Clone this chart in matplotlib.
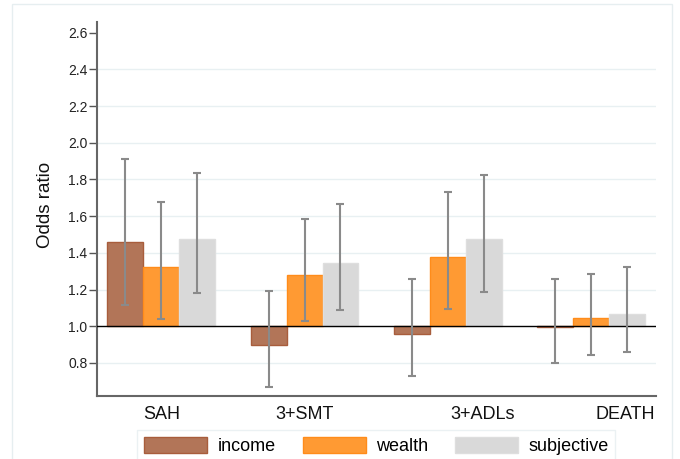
import numpy as np
import matplotlib
matplotlib.use('Agg')
import matplotlib.pyplot as plt
from matplotlib.patches import Rectangle

plt.rcParams['font.family'] = ['Liberation Sans', 'DejaVu Sans']

# data
outcomes = ['SAH', '3+SMT', '3+ADLs', 'DEATH']
series = ['income', 'wealth', 'subjective']

income = [1.461, 0.898, 0.956, 0.996]
income_lo = [1.114, 0.671, 0.729, 0.802]
income_hi = [1.910, 1.192, 1.258, 1.258]

wealth = [1.322, 1.278, 1.378, 1.044]
wealth_lo = [1.040, 1.029, 1.094, 0.844]
wealth_hi = [1.679, 1.586, 1.732, 1.283]

subjective = [1.474, 1.343, 1.474, 1.069]
subjective_lo = [1.183, 1.087, 1.189, 0.860]
subjective_hi = [1.837, 1.665, 1.825, 1.323]

y_ticks = [0.8, 1.0, 1.2, 1.4, 1.6, 1.8, 2.0, 2.2, 2.4, 2.6]

fills = ['#b27558', '#ff9a33', '#d9d9d9']
edges = ['#a85d3c', '#ff8c1a', '#dedede']

fig = plt.figure(figsize=(6.8, 4.59), dpi=100)
ax = fig.add_axes([97 / 680, 63 / 459, 559 / 680, 374.3 / 459])

# outer plot-region border (Stata style)
fig.patches.append(Rectangle((12 / 680, -0.05), 660 / 680, 1.05 - 4 / 459,
                             transform=fig.transFigure, fill=False,
                             edgecolor='#e6eef0', linewidth=1.0))

x = np.arange(len(outcomes))
w = 0.251
base = 1.0

for g in [0.8, 1.2, 1.4, 1.6, 1.8, 2.0, 2.2, 2.4]:
    ax.axhline(g, color='#e8f0f2', linewidth=1.0, zorder=0)

data = [(income, income_lo, income_hi),
        (wealth, wealth_lo, wealth_hi),
        (subjective, subjective_lo, subjective_hi)]

for k, (vals, lo, hi) in enumerate(data):
    vals = np.array(vals)
    xs = x + (k - 1) * w
    ax.bar(xs, vals - base, width=w, bottom=base, color=fills[k],
           edgecolor=edges[k], linewidth=1.0, label=series[k], zorder=2)
    ax.errorbar(xs, vals, yerr=[vals - np.array(lo), np.array(hi) - vals],
                fmt='none', ecolor='#8a8a8a', elinewidth=1.5, capsize=2.9,
                capthick=1.5, zorder=4)

ax.axhline(1.0, color='black', linewidth=1.0, zorder=3)

ax.set_xlim(-0.449, 3.454)
ax.set_ylim(0.62, 2.66)
ax.set_yticks(y_ticks)
ax.set_yticklabels([f'{t:.1f}' for t in y_ticks])
ax.tick_params(axis='y', length=6, width=1.0, color='#555555', pad=1,
               labelsize=10, labelcolor='#222222')

label_pos = [0.0, 1.0, 2.241, 3.239]
ax.set_xticks(label_pos)
ax.set_xticklabels(outcomes)
ax.tick_params(axis='x', length=0, pad=7, labelsize=13, labelcolor='#111111')

for s in ['top', 'right']:
    ax.spines[s].set_visible(False)
for s in ['left', 'bottom']:
    ax.spines[s].set_color('#666666')
    ax.spines[s].set_linewidth(1.5)

fig.text(45 / 680, 0.553, 'Odds ratio', rotation=90, ha='center', va='center',
         fontsize=13.5, color='#111111')

leg = fig.legend(loc='upper left', bbox_to_anchor=(137 / 680, 1 - 430 / 459),
                 ncol=3, fontsize=13, frameon=True, fancybox=False,
                 handlelength=3.5, handleheight=1.0, handletextpad=0.55,
                 columnspacing=1.5, borderpad=0.4, borderaxespad=0)
leg.get_frame().set_edgecolor('#e6eef0')
leg.get_frame().set_linewidth(1.0)

fig.savefig('out.png', dpi=100)
